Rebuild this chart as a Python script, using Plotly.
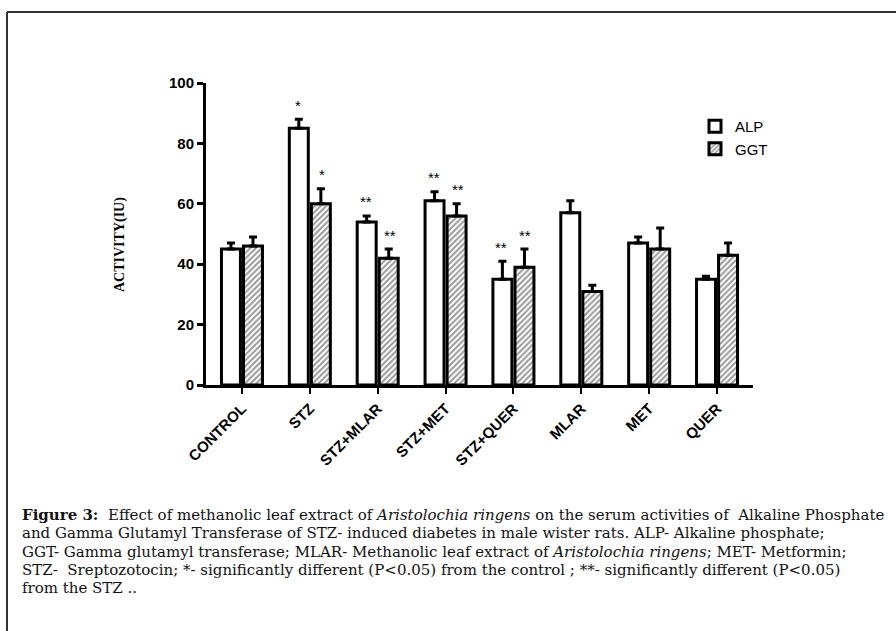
import plotly.graph_objects as go

categories = ["CONTROL", "STZ", "STZ+MLAR", "STZ+MET", "STZ+QUER", "MLAR", "MET", "QUER"]
alp_values = [45, 85, 54, 61, 35, 57, 47, 35]
alp_errors = [2, 3, 2, 3, 6, 4, 2, 1]
ggt_values = [46, 60, 42, 56, 39, 31, 45, 43]
ggt_errors = [3, 5, 3, 4, 6, 2, 7, 4]
alp_marks = ["", "*", "**", "**", "**", "", "", ""]
ggt_marks = ["", "*", "**", "**", "**", "", "", ""]
y_ticks = [0, 20, 40, 60, 80, 100]

caption_lines = [
    "<b>Figure 3:</b>  Effect of methanolic leaf extract of <i>Aristolochia ringens</i> on the serum activities of  Alkaline Phosphate",
    "and Gamma Glutamyl Transferase of STZ- induced diabetes in male wister rats. ALP- Alkaline phosphate;",
    "GGT- Gamma glutamyl transferase; MLAR- Methanolic leaf extract of <i>Aristolochia ringens</i>; MET- Metformin;",
    "STZ-  Sreptozotocin; *- significantly different (P&lt;0.05) from the control ; **- significantly different (P&lt;0.05)",
    "from the STZ ..",
]

W, H = 896, 631
L, R, T, B = 206, 753, 83, 385


def px(x):
    return (x - L) / (R - L)


def py(y):
    return (B - y) / (B - T)


fig = go.Figure()
fig.add_trace(go.Bar(
    name="ALP", x=categories, y=alp_values,
    marker=dict(color="white", line=dict(color="black", width=3)),
    error_y=dict(type="data", array=alp_errors, arrayminus=[0] * len(alp_errors),
                 symmetric=False, color="black", thickness=3, width=4),
))
fig.add_trace(go.Bar(
    name="GGT", x=categories, y=ggt_values,
    marker=dict(color="white", line=dict(color="black", width=3),
                pattern=dict(shape="/", fgcolor="#333333", bgcolor="white", size=4, solidity=0.5)),
    error_y=dict(type="data", array=ggt_errors, arrayminus=[0] * len(ggt_errors),
                 symmetric=False, color="black", thickness=3, width=4),
))

annotations = []
for i, c in enumerate(categories):
    if alp_marks[i]:
        annotations.append(dict(x=c, y=alp_values[i] + alp_errors[i], xref="x", yref="y",
                                text=alp_marks[i], showarrow=False, xshift=-12, yshift=14,
                                font=dict(family="Arial", size=15, color="black")))
    if ggt_marks[i]:
        annotations.append(dict(x=c, y=ggt_values[i] + ggt_errors[i], xref="x", yref="y",
                                text=ggt_marks[i], showarrow=False, xshift=12, yshift=14,
                                font=dict(family="Arial", size=15, color="black")))

# y axis title
annotations.append(dict(x=px(120), y=py(245), xref="paper", yref="paper", text="<b>ACTIVITY(IU)</b>",
                        textangle=-90, showarrow=False, xanchor="center",
                        font=dict(family="Liberation Serif", size=14, color="black")))

caption_y = [515, 533, 552, 570, 588]
for line, yy in zip(caption_lines, caption_y):
    annotations.append(dict(x=px(20), y=py(yy), xref="paper", yref="paper", text=line,
                            xanchor="left", yanchor="middle", showarrow=False,
                            font=dict(family="DejaVu Serif", size=15, color="#111111")))

shapes = [
    dict(type="line", xref="paper", yref="paper", x0=px(7), x1=px(900), y0=py(12), y1=py(12),
         line=dict(color="#333333", width=2)),
    dict(type="line", xref="paper", yref="paper", x0=px(7), x1=px(7), y0=py(12), y1=py(640),
         line=dict(color="#333333", width=2)),
]

fig.update_layout(
    width=W, height=H,
    margin=dict(l=L, r=W - R, t=T, b=H - B, autoexpand=False),
    paper_bgcolor="white", plot_bgcolor="white",
    barmode="group", bargap=0.35, bargroupgap=0.14,
    showlegend=True,
    legend=dict(x=px(695), y=py(110), xanchor="left", yanchor="top",
                font=dict(family="Arial", size=15, color="black"),
                bgcolor="rgba(0,0,0,0)", tracegroupgap=8),
    annotations=annotations, shapes=shapes,
    font=dict(family="Arial", color="black"),
)
fig.update_xaxes(
    range=[-0.53, 7.53], showline=True, linecolor="black", linewidth=3,
    ticks="outside", ticklen=6, tickwidth=2, tickcolor="black", tickangle=-45,
    tickfont=dict(family="Arial", size=15, color="black", weight="bold"),
    showgrid=False, zeroline=False,
)
fig.update_yaxes(
    range=[0, 100], tickvals=y_ticks, showline=True, linecolor="black", linewidth=3,
    ticks="outside", ticklen=6, tickwidth=3, tickcolor="black",
    tickfont=dict(family="Arial", size=15, color="black", weight="bold"),
    showgrid=False, zeroline=False,
)

fig.write_html("out.html")
